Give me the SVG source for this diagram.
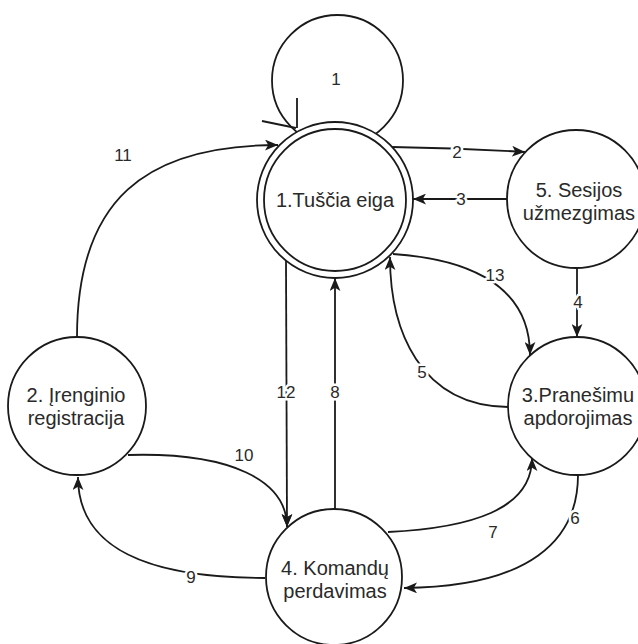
<svg xmlns="http://www.w3.org/2000/svg" width="638" height="644" viewBox="0 0 638 644">
  <style>
    .node { fill: #ffffff; stroke: #1a1a1a; stroke-width: 1.8; }
    .edge { fill: none; stroke: #1a1a1a; stroke-width: 1.8; }
    .ntext { font-family: "Liberation Sans", Arial, sans-serif; font-size: 20px; fill: #2a2a2a; text-anchor: middle; }
    .ltext { font-family: "Liberation Sans", Arial, sans-serif; font-size: 17px; fill: #2a2a2a; text-anchor: middle; dominant-baseline: central; }
    .bg { stroke: #ffffff; stroke-width: 5px; paint-order: stroke; stroke-linejoin: round; }
  </style>
  <defs>
    <marker id="arrow" viewBox="0 0 12 10" refX="12" refY="5" markerWidth="13" markerHeight="11" markerUnits="userSpaceOnUse" orient="auto">
      <path d="M0,0 L12,5 L0,10 L3,5 Z" fill="#1a1a1a"/>
    </marker>
  </defs>
  <rect width="638" height="644" fill="#ffffff"/>

  <!-- self-loop on the idle state -->
  <g id="loop">
    <circle cx="337.5" cy="80.5" r="65.5" class="node"/>
    <text x="336" y="85" class="ltext" style="dominant-baseline:auto">1</text>
    <path d="M297,98 L297,128 M262,121 L296,128" class="edge"/>
  </g>

  <g id="connectors">
    <path d="M392,147 Q460,148 525,152" class="edge" marker-end="url(#arrow)"/>
    <path d="M507,199 L413,199" class="edge" marker-end="url(#arrow)"/>
    <path d="M577,268 L577,337" class="edge" marker-end="url(#arrow)"/>
    <path d="M393,254 C455,258 530,278 530,355" class="edge" marker-end="url(#arrow)"/>
    <path d="M508,407 C420,406 390,330 390,257" class="edge" marker-end="url(#arrow)"/>
    <path d="M578,475 C578,540 530,587 404,588" class="edge" marker-end="url(#arrow)"/>
    <path d="M388,532 C470,528 532,510 532,458" class="edge" marker-end="url(#arrow)"/>
    <path d="M335,509 L335,278" class="edge" marker-end="url(#arrow)"/>
    <path d="M286,261 L287,527" class="edge" marker-end="url(#arrow)"/>
    <path d="M128,455 C230,452 287,480 287,527" class="edge" marker-end="url(#arrow)"/>
    <path d="M265,578 C150,578 78,550 78,477" class="edge" marker-end="url(#arrow)"/>
    <path d="M77,337 C77,200 145,145 278,145" class="edge" marker-end="url(#arrow)"/>

    <text x="457" y="152" class="ltext bg">2</text>
    <text x="461" y="199" class="ltext bg">3</text>
    <text x="578" y="302" class="ltext bg">4</text>
    <text x="495" y="275" class="ltext bg">13</text>
    <text x="422" y="372" class="ltext bg">5</text>
    <text x="575" y="518" class="ltext bg">6</text>
    <text x="493" y="532" class="ltext">7</text>
    <text x="335" y="392" class="ltext bg">8</text>
    <text x="286" y="392" class="ltext bg">12</text>
    <text x="244" y="455" class="ltext">10</text>
    <text x="191" y="577" class="ltext bg">9</text>
    <text x="123" y="155" class="ltext">11</text>
  </g>

  <g id="state1">
    <circle cx="335" cy="200" r="78" class="node"/>
    <circle cx="335" cy="200" r="71" class="node"/>
    <text x="335" y="207" class="ntext">1.Tuščia eiga</text>
  </g>

  <g id="state5">
    <circle cx="576" cy="199" r="69" class="node"/>
    <text x="579" y="197" class="ntext">5. Sesijos</text>
    <text x="579" y="220" class="ntext">užmezgimas</text>
  </g>

  <g id="state3">
    <circle cx="577" cy="406" r="69" class="node"/>
    <text x="578" y="402" class="ntext">3.Pranešimu</text>
    <text x="578" y="425" class="ntext">apdorojimas</text>
  </g>

  <g id="state2">
    <circle cx="77" cy="406" r="69" class="node"/>
    <text x="76" y="402" class="ntext">2. Įrenginio</text>
    <text x="76" y="425" class="ntext">registracija</text>
  </g>

  <g id="state4">
    <circle cx="334" cy="577" r="68" class="node"/>
    <text x="335" y="575" class="ntext">4. Komandų</text>
    <text x="335" y="598" class="ntext">perdavimas</text>
  </g>
</svg>
